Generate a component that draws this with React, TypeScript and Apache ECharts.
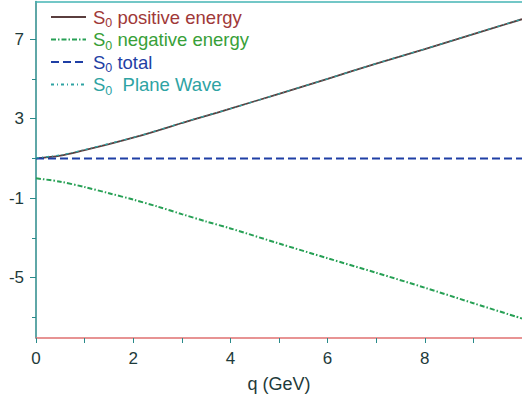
import React, { useEffect, useRef } from "react";
import * as echarts from "echarts";

const qValues = [0, 0.5, 1, 1.5, 2, 2.5, 3, 3.5, 4, 5, 6, 7, 8, 9, 10];
const positiveEnergy = [1.0, 1.14, 1.42, 1.72, 2.04, 2.4, 2.78, 3.14, 3.5, 4.25, 5.0, 5.77, 6.5, 7.25, 8.0];
const negativeEnergy = [0.0, -0.17, -0.44, -0.75, -1.07, -1.42, -1.8, -2.17, -2.52, -3.28, -4.02, -4.75, -5.5, -6.28, -7.05];
const totalValues = [1, 1, 1, 1, 1, 1, 1, 1, 1, 1, 1, 1, 1, 1, 1];
const planeWave = [1.03, 1.17, 1.44, 1.74, 2.05, 2.41, 2.79, 3.15, 3.5, 4.25, 5.0, 5.77, 6.5, 7.26, 8.0];

const xLabelValues = [0, 2, 4, 6, 8];
const xTickValues = [0, 1, 2, 3, 4, 5, 6, 7, 8, 9];
const yLabelValues = [-5, -1, 3, 7];
const yMinorTickValues = [-7, -3, 1, 5];

const seriesNames = ["S0 positive energy", "S0 negative energy", "S0 total", "S0  Plane Wave"];
const legendLabels: Record<string, string> = {
  "S0 positive energy": "{gap|}S{sub|0} positive energy",
  "S0 negative energy": "{gap|}S{sub|0} negative energy",
  "S0 total": "{gap|}S{sub|0} total",
  "S0  Plane Wave": "{gap|}S{sub|0}  Plane Wave",
};

const pair = (ys: number[]) => qValues.map((q, i) => [q, ys[i]]);

export default function App() {
  const ref = useRef<HTMLDivElement>(null);
  useEffect(() => {
    if (!ref.current) return;
    const chart = echarts.init(ref.current, null, { renderer: "svg" });
    const font = "'Liberation Sans', Arial, sans-serif";
    const labelColor = "#1e3a3a";
    const teal = "#2a8a8a";
    chart.setOption({
      animation: false,
      textStyle: { fontFamily: font },
      grid: { left: 36, right: 0, top: 1.5, bottom: 62 },
      legend: {
        orient: "vertical",
        left: 45,
        top: 2,
        itemWidth: 35,
        itemHeight: 14,
        itemGap: 0,
        itemStyle: { opacity: 0 },
        formatter: (name: string) => legendLabels[name] ?? name,
        textStyle: {
          fontSize: 18.5,
          fontFamily: font,
          lineHeight: 20,
          rich: {
            gap: { width: 2 },
            sub: { fontSize: 12.5, padding: [12, 0, 0, 0] },
          },
        },
        data: [
          { name: seriesNames[0], textStyle: { color: "#a03838" } },
          { name: seriesNames[1], textStyle: { color: "#38a038" } },
          { name: seriesNames[2], textStyle: { color: "#1f3fa5" } },
          { name: seriesNames[3], textStyle: { color: "#2ea3a3" } },
        ],
      },
      xAxis: [
        {
          type: "value",
          min: 0,
          max: 10,
          position: "bottom",
          name: "q (GeV)",
          nameLocation: "middle",
          nameGap: 37,
          nameTextStyle: { fontSize: 18, color: labelColor, fontFamily: font },
          axisLine: { onZero: false, lineStyle: { color: "#e07070", width: 1.5 } },
          axisTick: { customValues: xTickValues, length: 5, lineStyle: { color: teal, width: 1 } },
          axisLabel: { customValues: xLabelValues, fontSize: 17, color: labelColor, margin: 12, fontFamily: font },
          splitLine: { show: false },
        },
        {
          type: "value",
          min: 0,
          max: 10,
          position: "top",
          axisLine: { onZero: false, lineStyle: { color: "#45b5b5", width: 1.5 } },
          axisTick: { show: false },
          axisLabel: { show: false },
          splitLine: { show: false },
        },
      ],
      yAxis: [
        {
          type: "value",
          min: -8.03,
          max: 8.89,
          position: "left",
          axisLine: { show: true, onZero: false, lineStyle: { color: teal, width: 1.5 } },
          axisTick: { customValues: yLabelValues, length: 6, lineStyle: { color: teal, width: 1 } },
          axisLabel: { customValues: yLabelValues, fontSize: 17, color: labelColor, margin: 12, fontFamily: font },
          splitLine: { show: false },
        },
        {
          type: "value",
          min: -8.03,
          max: 8.89,
          position: "left",
          axisLine: { show: false, onZero: false },
          axisTick: { customValues: yMinorTickValues, length: 4, lineStyle: { color: teal, width: 1 } },
          axisLabel: { show: false },
          splitLine: { show: false },
        },
      ],
      series: [
        {
          name: seriesNames[0],
          type: "line",
          data: pair(positiveEnergy),
          symbol: "none",
          smooth: 0.3,
          lineStyle: { color: "#5a3e3e", width: 1.8, type: "solid" },
          itemStyle: { color: "#5a3e3e" },
        },
        {
          name: seriesNames[1],
          type: "line",
          data: pair(negativeEnergy),
          symbol: "none",
          smooth: 0.3,
          lineStyle: { color: "#27a055", width: 2, type: [5, 2, 1.5, 2] },
          itemStyle: { color: "#27a055" },
        },
        {
          name: seriesNames[2],
          type: "line",
          data: pair(totalValues),
          symbol: "none",
          lineStyle: { color: "#1f3fa5", width: 2, type: [8, 4] },
          itemStyle: { color: "#1f3fa5" },
        },
        {
          name: seriesNames[3],
          type: "line",
          data: pair(planeWave),
          symbol: "none",
          smooth: 0.3,
          lineStyle: { color: "#2ea3a3", width: 1.3, type: [3, 3, 1, 3] },
          itemStyle: { color: "#2ea3a3" },
        },
      ],
    });
    return () => chart.dispose();
  }, []);
  return (
    <div
      ref={ref}
      style={{ position: "fixed", left: 0, top: 0, width: 522, height: 400, background: "#fff" }}
    />
  );
}
